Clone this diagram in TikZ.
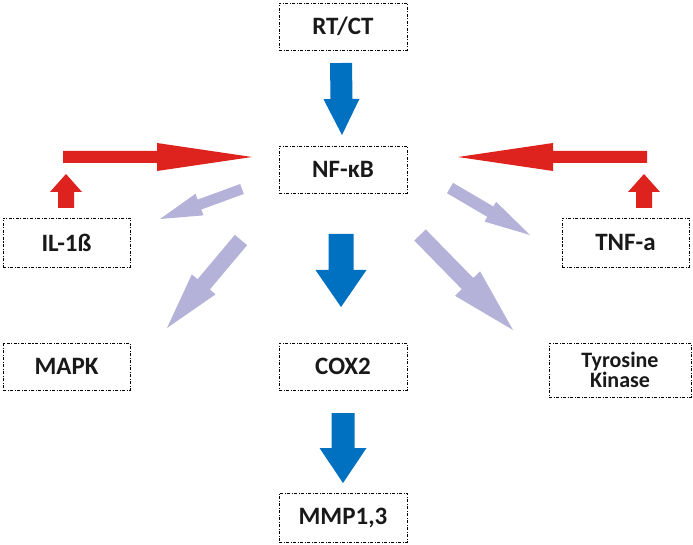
\documentclass[tikz,border=0pt]{standalone}
\usepackage{fontspec}
\setmainfont{Carlito}
\usetikzlibrary{calc}
\definecolor{arrblue}{RGB}{0,112,192}
\definecolor{arrred}{RGB}{222,34,30}
\definecolor{arrlav}{RGB}{180,178,216}
\newcommand\blkarrow[6]{%
  \path coordinate (ba) at ($(#3)!#6!(#2)$);
  \fill[#1] ($(#2)!#4!90:(#3)$) -- ($(ba)!#4!90:(#3)$) -- ($(ba)!#5!90:(#3)$) -- (#3)
    -- ($(ba)!#5!-90:(#3)$) -- ($(ba)!#4!-90:(#3)$) -- ($(#2)!#4!-90:(#3)$) -- cycle;}
\begin{document}
\begin{tikzpicture}[x=1pt,y=-1pt,
  box/.style={draw=black, line width=0.8pt,
    dash pattern=on 3pt off 1.5pt on 1pt off 1.5pt,
    minimum width=128pt, minimum height=47pt, inner sep=0pt,
    font=\fontsize{25}{25}\selectfont\bfseries, text=black!90}]
\useasboundingbox (0,0) rectangle (693,545);
% boxes
\node[box] (rt) at (343,26.5) {RT/CT};
\node[box] (nf) at (343,169.5) {NF-κB};
\node[box, minimum width=127pt, minimum height=49pt] (il) at (66.5,242.5) {IL-1ß};
\node[box, minimum width=127pt, minimum height=49pt] (tnf) at (625.5,242.5) {TNF-a};
\node[box, minimum width=127pt] (mapk) at (66.5,366.5) {MAPK};
\node[box] (cox) at (343,366.5) {COX2};
\node[box, minimum width=142pt, minimum height=54pt, align=center,
  font=\fontsize{22}{20}\selectfont\bfseries] (tyr) at (620,370) {Tyrosine\\Kinase};
\node[box, minimum height=49pt] (mmp) at (343,517.5) {MMP1,3};
% arrow end points
\coordinate (b1t) at (341,63);  \coordinate (b1h) at (342,135);
\coordinate (b2t) at (341,234); \coordinate (b2h) at (341,307);
\coordinate (b3t) at (343,413); \coordinate (b3h) at (343,483);
\coordinate (rlt) at (63,157);  \coordinate (rlh) at (252,157);
\coordinate (rrt) at (647,157); \coordinate (rrh) at (458,157);
\coordinate (slt) at (66,208);  \coordinate (slh) at (66,174);
\coordinate (srt) at (644,208); \coordinate (srh) at (644,174);
\coordinate (l1t) at (242,189); \coordinate (l1h) at (160,219);
\coordinate (l2t) at (241,240); \coordinate (l2h) at (167,328);
\coordinate (l3t) at (450,188); \coordinate (l3h) at (530,235);
\coordinate (l4t) at (420,235); \coordinate (l4h) at (513,330);
% blue arrows
\blkarrow{arrblue}{b1t}{b1h}{11pt}{18pt}{36pt}
\blkarrow{arrblue}{b2t}{b2h}{12.5pt}{25.5pt}{37pt}
\blkarrow{arrblue}{b3t}{b3h}{11.5pt}{23.5pt}{35pt}
% red arrows
\blkarrow{arrred}{rlt}{rlh}{6pt}{14pt}{95pt}
\blkarrow{arrred}{rrt}{rrh}{6pt}{14pt}{95pt}
\blkarrow{arrred}{slt}{slh}{8pt}{16pt}{18pt}
\blkarrow{arrred}{srt}{srh}{8pt}{16pt}{18pt}
% lavender arrows
\blkarrow{arrlav}{l1t}{l1h}{5.3pt}{11.5pt}{42pt}
\blkarrow{arrlav}{l2t}{l2h}{8pt}{15.5pt}{57pt}
\blkarrow{arrlav}{l3t}{l3h}{6pt}{11.5pt}{46pt}
\blkarrow{arrlav}{l4t}{l4h}{8pt}{17.5pt}{65pt}
\end{tikzpicture}
\end{document}
